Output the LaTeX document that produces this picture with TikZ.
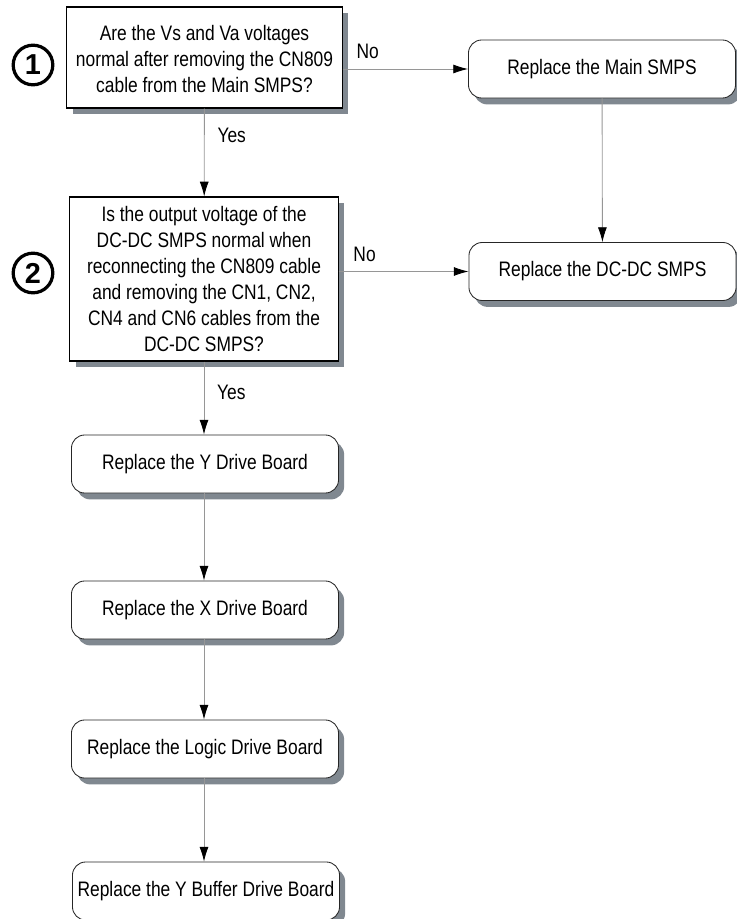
\documentclass[tikz,border=0pt]{standalone}
\usepackage{fontspec}
\setmainfont{Liberation Sans}[FakeStretch=0.83]
\newfontfamily\numfont{Liberation Sans}
\usetikzlibrary{arrows.meta,shadows}

\definecolor{shadowgray}{RGB}{128,136,144}
\definecolor{linegray}{RGB}{150,150,150}

\tikzset{
  question/.style={rectangle, draw=black, line width=0.75pt, fill=white,
    align=center, inner sep=1pt,
    font=\fontsize{14.9}{18.6}\selectfont,
    drop shadow={shadow xshift=0.14cm, shadow yshift=-0.16cm,
      fill=shadowgray, opacity=1}},
  action/.style={rectangle, rounded corners=0.33cm, draw=black!85,
    line width=0.6pt, fill=white, inner sep=1pt,
    minimum width=6.675cm, minimum height=1.45cm,
    font=\fontsize{14.9}{18.4}\selectfont,
    drop shadow={shadow xshift=0.14cm, shadow yshift=-0.16cm,
      fill=shadowgray, opacity=1}},
  flow/.style={draw=linegray, line width=0.6pt,
    -{Latex[length=10.5pt,width=6.4pt,color=black]}},
  answer/.style={font=\fontsize{14.9}{18.4}\selectfont, inner sep=0pt},
  stepnum/.style={circle, draw=black, line width=2.3pt, minimum size=0.99cm,
    inner sep=0pt, font=\numfont\bfseries\fontsize{20.5}{21}\selectfont}
}

\begin{document}
\begin{tikzpicture}[x=0.025cm, y=-0.025cm]
   \useasboundingbox (0,0) rectangle (736,919);

   %% Nummern
   \node[stepnum] (n1) at (33,65) {1};
   \node[stepnum] (n2) at (33,273) {2};

   %% Fragen
   \node[question, minimum width=6.875cm, minimum height=2.525cm] (q1) at (204.5,57.5)
      {\strut Are the Vs and Va voltages\\normal after removing the CN809\\cable from the Main SMPS?};
   \node[question, minimum width=6.7cm, minimum height=4.1cm] (q2) at (204,279)
      {Is the output voltage of the\\DC-DC SMPS normal when\\reconnecting the CN809 cable\\and removing the CN1, CN2,\\CN4 and CN6 cables from the\\DC-DC SMPS?};

   %% Massnahmen
   \node[action] (mainsmps) at (602,69) {Replace the Main SMPS};
   \node[action] (dcdcsmps) at (602.5,271.5) {Replace the DC-DC SMPS};
   \node[action] (ydrive) at (205,464) {Replace the Y Drive Board};
   \node[action] (xdrive) at (205,610) {Replace the X Drive Board};
   \node[action] (logic) at (205,749) {Replace the Logic Drive Board};
   \node[action] (ybuffer) at (206,891) {Replace the Y Buffer Drive Board};

   %% Pfeile
   \draw[flow] (q1.east |- mainsmps) -- node[answer, pos=0.2, anchor=base, yshift=0.25cm] {No} (mainsmps);
   \draw[flow] (q2.east |- dcdcsmps) -- node[answer, pos=0.2, anchor=base, yshift=0.25cm] {No} (dcdcsmps);
   \draw[flow] (q1) -- node[answer, pos=0.3, anchor=west, xshift=0.32cm] {Yes} (q2);
   \draw[flow] (q2) -- node[answer, pos=0.42, anchor=west, xshift=0.32cm] {Yes} (ydrive.north -| q2);
   \draw[flow] (mainsmps) -- (dcdcsmps);
   \draw[flow] (ydrive.south -| q2) -- (xdrive.north -| q2);
   \draw[flow] (xdrive.south -| q2) -- (logic.north -| q2);
   \draw[flow] (logic.south -| q2) -- (ybuffer.north -| q2);
  \end{tikzpicture}
\end{document}
